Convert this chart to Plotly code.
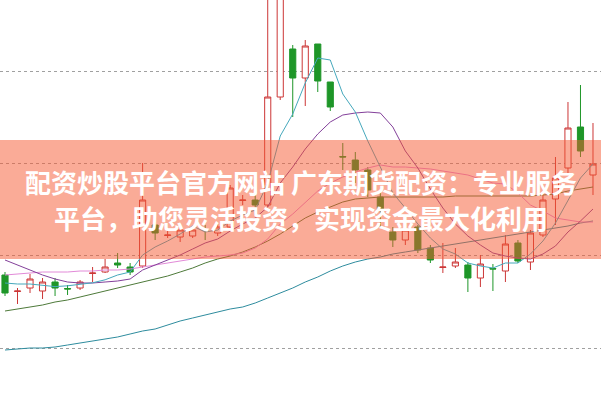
import plotly.graph_objects as go

# candle index (trading day)
days = list(range(48))

open_ = [1.25, 1.085, 1.12, 1.09, 1.18, 1.115, 1.12, 1.265, 1.28, 1.37,
         1.33, 1.34, 1.75, 1.645, 1.63, 1.64, 1.705, 1.67, 1.73, 1.995,
         2.00, 1.95, 3.03, 3.51, 3.22, 3.56, 3.18, 2.435, 2.40, 2.30,
         2.03, 1.68, 1.60, 1.73, 1.52, 1.325, 1.34, 1.35, 1.22, 1.315,
         1.29, 1.57, 1.38, 1.65, 2.01, 2.32, 2.73, 2.25]
high = [1.28, 1.12, 1.26, 1.22, 1.22, 1.15, 1.20, 1.33, 1.41, 1.47,
        1.37, 2.37, 1.80, 1.70, 1.75, 1.72, 1.75, 1.76, 2.15, 2.05,
        2.05, 4.20, 4.20, 3.55, 3.60, 3.56, 3.18, 2.57, 2.48, 2.33,
        2.08, 1.73, 1.75, 1.75, 1.55, 1.57, 1.52, 1.38, 1.45, 1.36,
        1.65, 1.60, 1.70, 2.08, 2.43, 2.98, 3.15, 2.77]
low = [1.04, 0.96, 1.07, 1.01, 1.04, 1.05, 1.10, 1.18, 1.27, 1.32,
       1.25, 1.32, 1.60, 1.62, 1.58, 1.62, 1.60, 1.64, 1.71, 1.95,
       1.85, 1.93, 3.00, 2.83, 2.94, 3.08, 2.89, 2.30, 2.17, 2.03,
       1.72, 1.53, 1.55, 1.47, 1.37, 1.27, 1.32, 1.08, 1.13, 1.09,
       1.18, 1.37, 1.30, 1.63, 1.75, 2.27, 2.43, 2.05]
close = [1.07, 1.09, 1.21, 1.18, 1.12, 1.11, 1.18, 1.27, 1.33, 1.35,
         1.28, 2.00, 1.67, 1.65, 1.70, 1.70, 1.70, 1.73, 2.12, 2.00,
         1.95, 3.03, 4.10, 3.22, 3.54, 3.19, 2.93, 2.43, 2.30, 2.10,
         1.90, 1.60, 1.70, 1.50, 1.40, 1.33, 1.38, 1.22, 1.36, 1.31,
         1.56, 1.39, 1.67, 2.00, 2.22, 2.72, 2.49, 2.36]

ma5 = [1.17, 1.16, 1.16, 1.15, 1.134, 1.142, 1.16, 1.172, 1.202, 1.25,
       1.28, 1.45, 1.53, 1.59, 1.66, 1.74, 1.68, 1.70, 1.79, 1.85,
       1.90, 2.17, 2.64, 2.86, 3.17, 3.42, 3.40, 3.06, 2.88, 2.59,
       2.33, 2.07, 1.92, 1.76, 1.62, 1.51, 1.46, 1.37, 1.34, 1.32,
       1.37, 1.37, 1.46, 1.59, 1.77, 2.00, 2.22, 2.36]
ma10 = [1.40, 1.35, 1.30, 1.25, 1.21, 1.18, 1.17, 1.17, 1.18, 1.19,
        1.21, 1.30, 1.35, 1.40, 1.45, 1.51, 1.57, 1.61, 1.69, 1.76,
        1.82, 1.93, 2.17, 2.33, 2.51, 2.66, 2.78, 2.85, 2.87, 2.88,
        2.87, 2.73, 2.49, 2.32, 2.11, 1.92, 1.76, 1.64, 1.55, 1.47,
        1.44, 1.42, 1.41, 1.46, 1.54, 1.68, 1.79, 1.91]
ma20 = [1.25, 1.26, 1.27, 1.28, 1.28, 1.28, 1.29, 1.29, 1.30, 1.30,
        1.31, 1.33, 1.35, 1.37, 1.39, 1.41, 1.43, 1.44, 1.45, 1.47,
        1.52, 1.61, 1.76, 1.86, 1.98, 2.09, 2.17, 2.23, 2.28, 2.32,
        2.35, 2.33, 2.33, 2.32, 2.31, 2.29, 2.27, 2.25, 2.21, 2.17,
        2.16, 2.07, 1.95, 1.89, 1.82, 1.80, 1.78, 1.78]
ma30 = [0.89, 0.91, 0.93, 0.95, 0.98, 1.00, 1.03, 1.06, 1.09, 1.12,
        1.15, 1.18, 1.21, 1.24, 1.28, 1.32, 1.37, 1.41, 1.44, 1.48,
        1.53, 1.59, 1.66, 1.74, 1.82, 1.88, 1.93, 1.98, 2.01, 2.02,
        2.03, 2.03, 2.03, 2.03, 2.03, 2.03, 2.04, 2.04, 2.04, 2.04,
        2.04, 2.04, 2.04, 2.05, 2.06, 2.09, 2.11, 2.13]
ma60 = [0.50, 0.51, 0.52, 0.52, 0.53, 0.55, 0.57, 0.59, 0.61, 0.63,
        0.66, 0.69, 0.71, 0.75, 0.79, 0.82, 0.85, 0.88, 0.91, 0.93,
        0.97, 1.02, 1.07, 1.12, 1.18, 1.23, 1.29, 1.34, 1.38, 1.41,
        1.43, 1.46, 1.48, 1.50, 1.52, 1.54, 1.56, 1.58, 1.60, 1.62,
        1.64, 1.66, 1.68, 1.70, 1.72, 1.74, 1.77, 1.79]

grid_levels = [0.52, 1.443, 2.366, 3.29]

line1 = "配资炒股平台官方网站 广东期货配资：专业服务"
line2 = "平台，助您灵活投资，实现资金最大化利用"

fig = go.Figure()

fig.add_trace(go.Candlestick(
    x=days, open=open_, high=high, low=low, close=close,
    increasing=dict(line=dict(color="#CC3636", width=1), fillcolor="#FFFFFF"),
    decreasing=dict(line=dict(color="#1E9628", width=1), fillcolor="#1E9628"),
    whiskerwidth=0, showlegend=False, hoverinfo="skip",
))

for vals, col in [(ma60, "#2E8C9E"), (ma30, "#4E7A3A"), (ma20, "#E28AD8"),
                  (ma10, "#83409A"), (ma5, "#45A8BC")]:
    fig.add_trace(go.Scatter(x=days, y=vals, mode="lines",
                             line=dict(color=col, width=1),
                             showlegend=False, hoverinfo="skip"))

fig.add_shape(type="rect", xref="paper", yref="paper", x0=0, x1=1,
              y0=0.3525, y1=0.65, fillcolor="rgba(245,88,48,0.5)",
              line=dict(width=0), layer="above")

font = dict(family="Noto Sans CJK SC", size=26, color="white")
fig.add_annotation(text="<b>" + line1 + "</b>", xref="paper", yref="paper",
                   x=0.5, y=0.5475, xanchor="center", yanchor="middle",
                   showarrow=False, font=font)
fig.add_annotation(text="<b>" + line2 + "</b>", xref="paper", yref="paper",
                   x=0.5, y=0.455, xanchor="center", yanchor="middle",
                   showarrow=False, font=font)

fig.update_layout(
    width=601, height=400, margin=dict(l=0, r=0, t=0, b=0),
    paper_bgcolor="white", plot_bgcolor="white",
    xaxis=dict(range=[-0.4, 47.64], showgrid=False, zeroline=False,
               showticklabels=False, rangeslider=dict(visible=False),
               fixedrange=True),
    yaxis=dict(range=[0, 4], tickvals=grid_levels, showticklabels=False,
               showgrid=True, gridcolor="#A0A0A0", griddash="dot",
               gridwidth=1, zeroline=False, fixedrange=True),
)

fig.write_html("out.html", config={"displayModeBar": False},
               post_script="document.body.style.margin='0';"
                           "document.body.style.overflow='hidden';")
